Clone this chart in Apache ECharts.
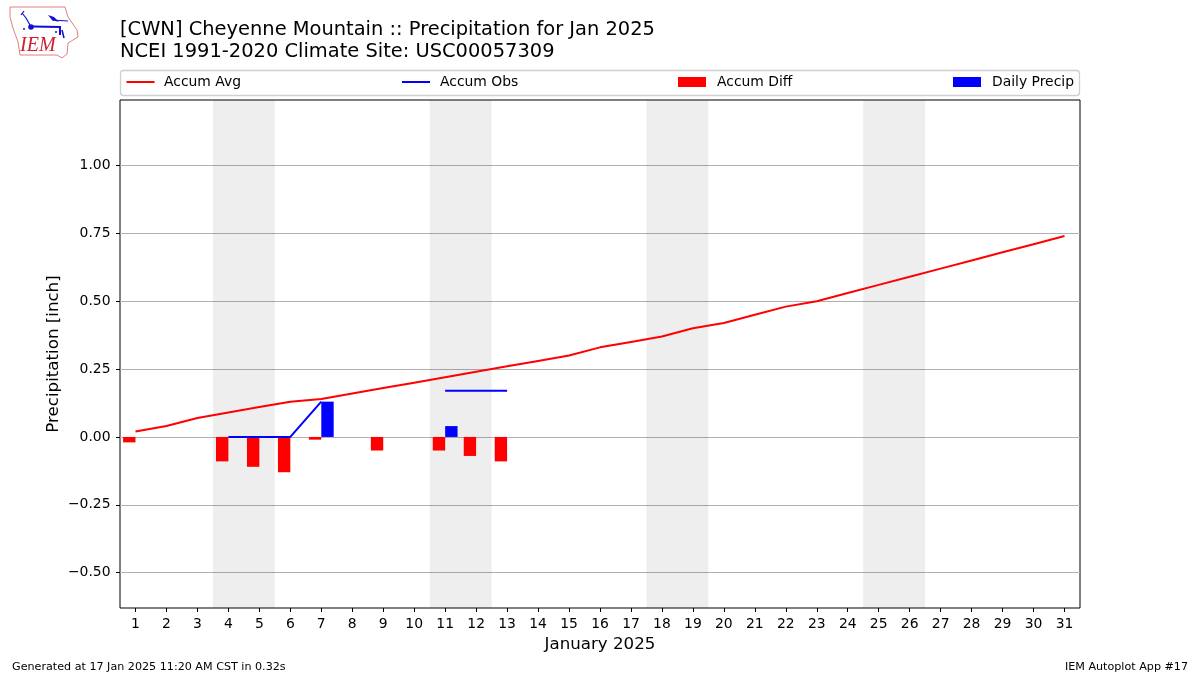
<!DOCTYPE html>
<html><head><meta charset="utf-8">
<style>html,body{margin:0;padding:0;background:#fff}#c{width:1200px;height:675px}</style>
<script src="https://cdn.jsdelivr.net/npm/echarts@6/dist/echarts.min.js"></script>
</head><body><div id="c"></div>
<script>
const days = ['1','2','3','4','5','6','7','8','9','10','11','12','13','14','15','16','17','18','19','20','21','22','23','24','25','26','27','28','29','30','31'];
const accumAvg = [0.02,0.04,0.07,0.09,0.11,0.13,0.14,0.16,0.18,0.20,0.22,0.24,0.26,0.28,0.30,0.33,0.35,0.37,0.40,0.42,0.45,0.48,0.50,0.53,0.56,0.59,0.62,0.65,0.68,0.71,0.74];
const accumObs = [null,null,null,0,0,0,0.13,null,null,null,0.17,0.17,0.17,null,null,null,null,null,null,null,null,null,null,null,null,null,null,null,null,null,null];
const accumDiff = [-0.02,null,null,-0.09,-0.11,-0.13,-0.01,null,-0.05,null,-0.05,-0.07,-0.09,null,null,null,null,null,null,null,null,null,null,null,null,null,null,null,null,null,null];
const dailyPrecip = [null,null,null,null,null,null,0.13,null,null,null,0.04,null,null,null,null,null,null,null,null,null,null,null,null,null,null,null,null,null,null,null,null];
const weekends = [[3.5,5.5],[10.5,12.5],[17.5,19.5],[24.5,26.5]];
const yTicks = [-0.5,-0.25,0,0.25,0.5,0.75,1];
const F = 'DejaVu Sans';
const chart = echarts.init(document.getElementById('c'), null, {renderer:'canvas'});
function lg(name, left, gap, isLine){
  const item = {name};
  if (isLine) item.itemStyle = {color:'transparent',borderWidth:0};
  else item.icon = 'rect';
  return {show:true, data:[item], left, top:75, orient:'horizontal', padding:0, itemWidth:28, itemHeight:10, itemGap:0, selectedMode:false,
    lineStyle:{width:2},
    textStyle:{fontFamily:F,fontSize:13.9,color:'#000',padding:[0,0,0,gap]}};
}
chart.setOption({
  animation:false,
  backgroundColor:'#fff',
  title:{text:'[CWN] Cheyenne Mountain :: Precipitation for Jan 2025\nNCEI 1991-2020 Climate Site: USC00057309',left:120,top:19,padding:0,
    textStyle:{fontFamily:F,fontSize:19.44,fontWeight:'normal',color:'#000',lineHeight:22}},
  legend:[lg('Accum Avg',125.5,4.5,true),lg('Accum Obs',401,5,true),lg('Accum Diff',678,6),lg('Daily Precip',953,6)],
  grid:{left:120,top:100,width:960,height:508,show:true,borderColor:'#000',borderWidth:1,backgroundColor:'#fff'},
  xAxis:[
    {type:'category',data:days,name:'January 2025',nameLocation:'middle',nameGap:28,
     nameTextStyle:{fontFamily:F,fontSize:16.67,color:'#000'},
     axisLine:{show:false,onZero:false},axisTick:{show:true,alignWithLabel:true,length:4,lineStyle:{color:'#000'}},
     axisLabel:{interval:0,fontFamily:F,fontSize:13.9,color:'#000',margin:9},splitLine:{show:false}},
    {type:'value',min:0.5,max:31.5,show:false,splitLine:{show:false}}
  ],
  yAxis:{type:'value',min:-0.63,max:1.241,interval:0.25,name:'Precipitation [inch]',nameLocation:'middle',nameGap:58,nameMoveOverlap:false,
    nameTextStyle:{fontFamily:F,fontSize:16.67,color:'#000'},
    axisLine:{show:false,onZero:false},
    axisTick:{show:true,length:4,lineStyle:{color:'#000'},customValues:yTicks},
    axisLabel:{fontFamily:F,fontSize:13.9,color:'#000',margin:9.5,customValues:yTicks,
      formatter:v=>(v<0?'\u2212':'')+Math.abs(v).toFixed(2)},
    splitLine:{show:true,lineStyle:{color:'#b0b0b0',width:1}}},
  series:[
    {name:'Weekend',type:'line',xAxisIndex:1,yAxisIndex:0,data:[],silent:true,symbol:'none',
     markArea:{silent:true,itemStyle:{color:'rgba(0,0,0,0.067)'},data:weekends.map(w=>[{xAxis:w[0]},{xAxis:w[1]}])}},
    {name:'Accum Avg',type:'line',data:accumAvg,symbol:'none',lineStyle:{color:'#f00',width:2},itemStyle:{color:'#f00'},z:4},
    {name:'Accum Obs',type:'line',data:accumObs,symbol:'none',connectNulls:false,lineStyle:{color:'#00f',width:2},itemStyle:{color:'#00f'},z:4},
    {name:'Accum Diff',type:'bar',data:accumDiff,barWidth:'40%',barGap:0,itemStyle:{color:'#f00'},z:3},
    {name:'Daily Precip',type:'bar',data:dailyPrecip,barWidth:'40%',barGap:0,itemStyle:{color:'#00f'},z:3}
  ],
  graphic:[
    {type:'rect',shape:{x:120.5,y:70.5,width:959,height:25,r:3},style:{fill:'none',stroke:'#d0d0d0',lineWidth:1.3},z:-1},
    {type:'text',style:{x:12,y:662,text:'Generated at 17 Jan 2025 11:20 AM CST in 0.32s',font:'11.15px "DejaVu Sans"',fill:'#000'}},
    {type:'text',style:{x:1188,y:662,text:'IEM Autoplot App #17',textAlign:'right',font:'11.15px "DejaVu Sans"',fill:'#000'}},
    {type:'polygon',shape:{points:[[10,7],[65,7],[68,17],[77,30],[78,37],[68,43],[67,54],[62,58],[57,55],[20,55],[18,42],[13,28],[10,17]]},style:{fill:'#fff',stroke:'#e08080',lineWidth:1}},
    {type:'polyline',shape:{points:[[32,26.5],[60,27],[60,35]]},style:{fill:'none',stroke:'#1010d0',lineWidth:2}},
    {type:'polyline',shape:{points:[[30,25],[26,18],[22,13]]},style:{fill:'none',stroke:'#1010d0',lineWidth:1.2}},
    {type:'polyline',shape:{points:[[21,15],[24,11]]},style:{fill:'none',stroke:'#1010d0',lineWidth:1.2}},
    {type:'polygon',shape:{points:[[48,15],[54,17],[59,22],[52,20]]},style:{fill:'#1010d0'}},
    {type:'polyline',shape:{points:[[52,20],[68,21]]},style:{fill:'none',stroke:'#1010d0',lineWidth:1}},
    {type:'polyline',shape:{points:[[62,30],[64,38]]},style:{fill:'none',stroke:'#1010d0',lineWidth:1.5}},
    {type:'circle',shape:{cx:31,cy:27,r:2.8},style:{fill:'#1010d0'}},
    {type:'circle',shape:{cx:24,cy:29,r:1},style:{fill:'#1010d0'}},
    {type:'circle',shape:{cx:56,cy:32,r:1},style:{fill:'#1010d0'}},
    {type:'text',style:{x:20,y:36,text:'IEM',font:'italic 20px "Liberation Serif"',fill:'#d02030'}}
  ]
});
</script></body></html>
